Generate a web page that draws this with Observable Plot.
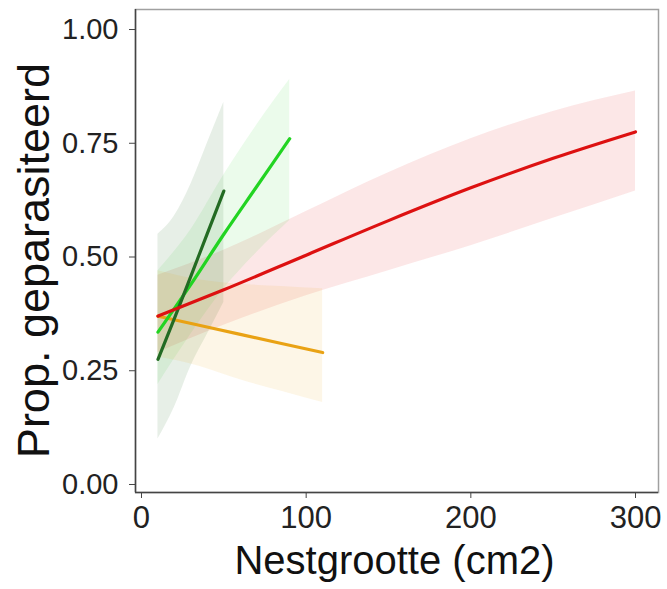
<!DOCTYPE html>
<html>
<head>
<meta charset="utf-8">
<script src="https://cdn.jsdelivr.net/npm/d3@7"></script>
<script src="https://cdn.jsdelivr.net/npm/@observablehq/plot@0.6"></script>
<style>
  html, body { margin: 0; padding: 0; background: #fff; }
  #chart svg { display: block; font-family: "Liberation Sans", Arial, sans-serif; }
</style>
</head>
<body>
<div id="chart"></div>
<script>
// Series (x = nest size in cm2, values = proportion parasitized)
const seriesNames = ["red", "lightgreen", "darkgreen", "orange"];
const seriesColors = {red: "#dd1111", lightgreen: "#22d422", darkgreen: "#236b23", orange: "#e9a214"};

const redX     = [10, 50, 100, 150, 200, 250, 300];
const redMean  = [0.37, 0.428, 0.504, 0.58, 0.652, 0.717, 0.775];
const redLow   = [0.29, 0.35, 0.415, 0.47, 0.525, 0.585, 0.645];
const redHigh  = [0.46, 0.515, 0.60, 0.685, 0.76, 0.82, 0.865];

const lgX      = [10, 30, 50, 70, 90];
const lgMean   = [0.335, 0.44, 0.55, 0.655, 0.76];
const lgLow    = [0.22, 0.33, 0.43, 0.51, 0.58];
const lgHigh   = [0.47, 0.56, 0.68, 0.79, 0.89];

const dgX      = [10, 20, 30, 40, 50];
const dgMean   = [0.275, 0.365, 0.458, 0.552, 0.645];
const dgLow    = [0.10, 0.17, 0.26, 0.33, 0.40];
const dgHigh   = [0.55, 0.59, 0.66, 0.75, 0.84];

const orX      = [10, 35, 60, 85, 110];
const orMean   = [0.37, 0.35, 0.33, 0.31, 0.29];
const orLow    = [0.28, 0.26, 0.23, 0.205, 0.18];
const orHigh   = [0.47, 0.45, 0.44, 0.435, 0.43];

const xTicks = [0, 100, 200, 300];
const yTicks = [0, 0.25, 0.5, 0.75, 1];
const xTitle = "Nestgrootte (cm2)";
const yTitle = "Prop. geparasiteerd";

function build(name, xs, m, lo, hi) {
  return xs.map((x, i) => ({series: name, x, mean: m[i], lo: lo[i], hi: hi[i]}));
}
const data = {
  red: build("red", redX, redMean, redLow, redHigh),
  lightgreen: build("lightgreen", lgX, lgMean, lgLow, lgHigh),
  darkgreen: build("darkgreen", dgX, dgMean, dgLow, dgHigh),
  orange: build("orange", orX, orMean, orLow, orHigh)
};
const fillOpacity = {red: 0.1, lightgreen: 0.09, darkgreen: 0.11, orange: 0.1};

const ribbons = seriesNames.map(s => Plot.areaY(data[s], {
  x: "x", y1: "lo", y2: "hi", fill: seriesColors[s], fillOpacity: fillOpacity[s], curve: "monotone-x"
}));
const lineOrder = ["orange", "lightgreen", "darkgreen", "red"];
const lines = lineOrder.map(s => Plot.line(data[s], {
  x: "x", y: "mean", stroke: seriesColors[s], strokeWidth: 3.2, strokeLinecap: "round", curve: "monotone-x"
}));

const chart = Plot.plot({
  width: 667,
  height: 589,
  marginLeft: 135,
  marginRight: 9,
  marginTop: 9,
  marginBottom: 97,
  x: {domain: [-3.64, 313.96]},
  y: {domain: [-0.0176, 1.044]},
  marks: [
    ...ribbons,
    ...lines,
    Plot.frame({stroke: "#a0a0a0", strokeWidth: 1.5}),
    Plot.axisY({ticks: yTicks, tickFormat: d3.format(".2f"), tickSize: 6, tickPadding: 11,
      fontSize: 29, stroke: "#444", color: "#222", label: null}),
    Plot.axisX({ticks: xTicks, tickFormat: d3.format("d"), tickSize: 6, tickPadding: 7,
      fontSize: 31, stroke: "#444", color: "#222", label: null}),
    Plot.ruleX([0], {x: () => -3.64, stroke: "#444", strokeWidth: 1.5}),
    Plot.ruleY([0], {y: () => -0.0176, stroke: "#444", strokeWidth: 1.5}),
    Plot.text([yTitle], {frameAnchor: "left", dx: -101, dy: 9.5, rotate: -90,
      text: d => d, fontSize: 45, fill: "#111", lineAnchor: "middle", textAnchor: "middle"}),
    Plot.text([xTitle], {frameAnchor: "bottom", dx: -2.5, dy: 81,
      text: d => d, fontSize: 40, fill: "#111", lineAnchor: "bottom", textAnchor: "middle"})
  ]
});
document.getElementById("chart").appendChild(chart);
</script>
</body>
</html>
